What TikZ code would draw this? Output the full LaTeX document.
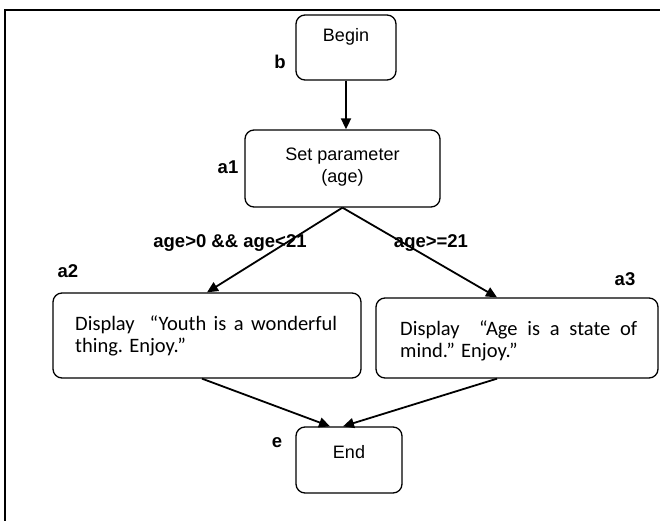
\documentclass[tikz,border=0pt]{standalone}
\usepackage{fontspec}
\setmainfont{Liberation Sans}
\newfontfamily\calibfont{Carlito}
\usetikzlibrary{arrows.meta}
\tolerance=10000
\tikzset{
  blk/.style={draw, line width=1.3pt, rounded corners=9pt, inner sep=0pt},
  tag/.style={font=\fontsize{18.5}{21}\selectfont\bfseries},
  txt/.style={font=\fontsize{18}{22}\selectfont, align=center},
  disp/.style={font=\calibfont\fontsize{20.5}{22}\selectfont, align=justify, anchor=base west, inner sep=0pt},
  flow/.style={line width=1.8pt, -{Triangle[length=11pt,width=10pt]}},
}
\begin{document}
\begin{tikzpicture}[x=1pt,y=-1pt]
  \useasboundingbox (0,0) rectangle (660,521);
  \draw[line width=1.5pt] (5,521) -- (5,10) -- (660,10);
  % boxes
  \node[blk, minimum width=100pt, minimum height=65pt] (b) at (346,47.5) {};
  \node[blk, minimum width=195pt, minimum height=77pt] (a1) at (342.5,168.5) {};
  \node[blk, minimum width=308pt, minimum height=85pt] (a2) at (207,335.5) {};
  \node[blk, minimum width=282pt, minimum height=80pt] (a3) at (517,338) {};
  \node[blk, minimum width=106pt, minimum height=66pt] (e) at (349,460) {};
  % texts
  \node[txt] (b_t) at (346,37) {Begin};
  \node[txt] (a1_t) at (342.5,167) {Set parameter\\(age)};
  \node[disp, text width=262pt] (a2_t) at (75,330) {Display\ \ “Youth is a wonderful thing. Enjoy.”};
  \node[disp, text width=237pt] (a3_t) at (400,335) {Display\ \ “Age is a state of mind.” Enjoy.”};
  \node[txt] (e_t) at (349,452) {End};
  % tags
  \node[tag] (b_l) at (280,62) {b};
  \node[tag] (a1_l) at (228,167) {a1};
  \node[tag] (a2_l) at (68,271) {a2};
  \node[tag] (a3_l) at (625,279) {a3};
  \node[tag] (e_l) at (277,443) {e};
  \node[tag] (c1) at (230,243) {age>0 \&\& age<21};
  \node[tag] (c2) at (431,243) {age>=21};
  % arrows
  \path (b.south) edge [flow] (b.south |- a1.north);
  \path (a1.south) edge [flow] (a2.north);
  \path (a1.south) edge [flow] ([xshift=-20pt]a3.north);
  \path ([xshift=-5pt]a2.south) edge [flow] ([xshift=-19pt]e.north);
  \path ([xshift=-20pt]a3.south) edge [flow] ([xshift=-6pt]e.north);
\end{tikzpicture}
\end{document}
